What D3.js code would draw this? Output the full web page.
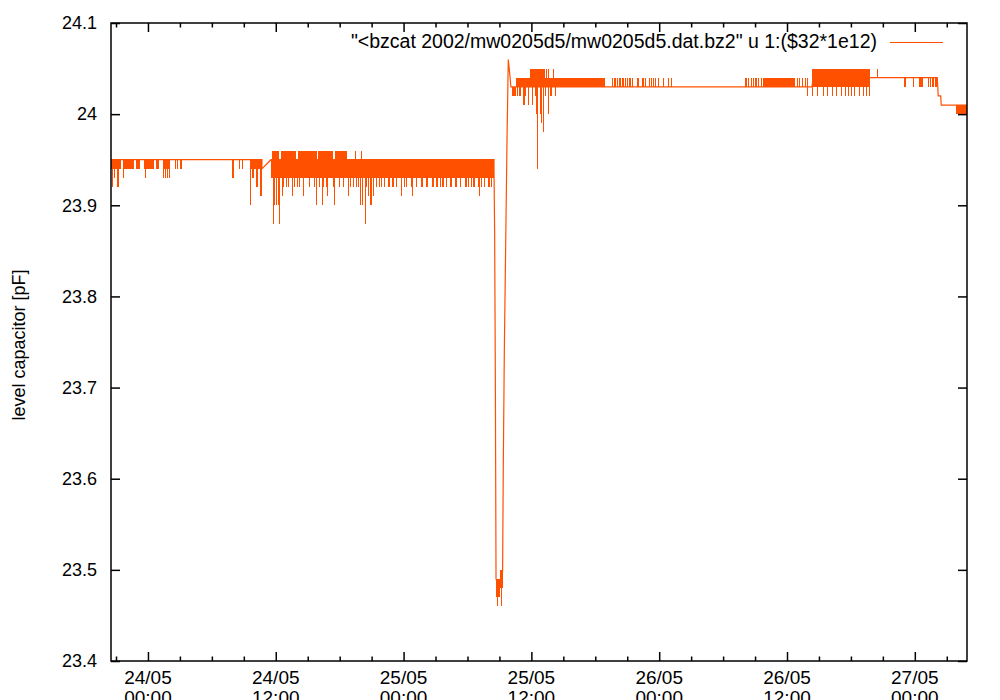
<!DOCTYPE html>
<html><head><meta charset="utf-8">
<script src="https://cdn.jsdelivr.net/npm/d3@7"></script>
<style>
body{margin:0;background:#fff}
svg{display:block}
text{font-family:"Liberation Sans",Arial,Helvetica,sans-serif;fill:#000}
</style>
</head><body>
<svg id="chart" width="1000" height="700"></svg>
<script>
// ---------- data (time in hours after 24/05/2002 00:00 UTC) ----------
const startDate = Date.UTC(2002, 4, 24, 0, 0);
const timeRangeHours = [-3.47, 76.9];
const valueRange = [23.4, 24.1];
const yTickValues = [23.4, 23.5, 23.6, 23.7, 23.8, 23.9, 24.0, 24.1];
const yTickLabels = ["23.4", "23.5", "23.6", "23.7", "23.8", "23.9", "24", "24.1"];
const xMajorTickHours = [0, 12, 24, 36, 48, 60, 72];
const xMinorTickHours = [-3, 3, 6, 9, 15, 18, 21, 27, 30, 33, 39, 42, 45, 51, 54, 57, 63, 66, 69, 75];
const yAxisTitle = "level capacitor [pF]";
const seriesLabel = "\"<bzcat 2002/mw0205d5/mw0205d5.dat.bz2\" u 1:($32*1e12)";

// slow trace of the signal [hour, pF]
const levelTrace = [
  [-3.47, 23.95], [10.70, 23.95], [10.70, 23.94], [11.55, 23.95], [32.49, 23.95],
  [32.49, 23.94], [32.55, 23.87], [32.62, 23.70], [32.68, 23.49], [33.01, 23.48],
  [33.24, 23.49], [33.30, 23.50], [33.36, 23.61], [33.46, 23.74], [33.59, 23.86],
  [33.71, 23.97], [33.83, 24.06], [33.92, 24.05], [34.08, 24.03], [62.35, 24.03],
  [62.45, 24.04], [74.11, 24.04], [74.20, 24.02], [74.43, 24.02], [74.48, 24.01],
  [76.90, 24.01]
];

// dense fluctuation bands [hourStart, hourEnd, high, low]
const noiseBands = [
  [-3.47, -2.54, 23.95, 23.94], [-2.25, -1.31, 23.95, 23.94], [-1.13, -0.78, 23.95, 23.94],
  [-0.38, 0.56, 23.95, 23.94], [0.78, 1.03, 23.95, 23.94], [1.41, 2.04, 23.95, 23.94],
  [7.89, 8.12, 23.95, 23.93], [9.55, 10.70, 23.95, 23.94],
  [11.55, 32.49, 23.95, 23.93],
  [11.64, 12.30, 23.96, 23.95], [12.45, 13.90, 23.96, 23.95], [14.05, 15.85, 23.96, 23.95],
  [16.00, 17.40, 23.96, 23.95], [17.55, 18.69, 23.96, 23.95],
  [32.68, 33.05, 23.49, 23.47], [33.05, 33.30, 23.50, 23.48],
  [34.18, 34.55, 24.03, 24.02], [34.55, 42.91, 24.04, 24.03], [35.87, 37.28, 24.05, 24.04],
  [57.75, 60.75, 24.04, 24.03], [62.35, 67.79, 24.05, 24.03], [72.39, 72.77, 24.04, 24.03],
  [75.90, 76.90, 24.01, 24.00]
];

// isolated excursions [hour, from, to]
const excursions = [
  [-3.31, 23.95, 23.92], [-3.13, 23.95, 23.93], [-2.86, 23.95, 23.92], [-2.77, 23.95, 23.92],
  [-2.25, 23.95, 23.93], [-0.22, 23.95, 23.93], [1.50, 23.95, 23.93], [1.64, 23.95, 23.93],
  [1.88, 23.95, 23.93], [2.02, 23.95, 23.93], [2.60, 23.95, 23.94], [2.75, 23.95, 23.94],
  [3.07, 23.95, 23.94], [3.19, 23.95, 23.94], [8.61, 23.95, 23.94], [8.92, 23.95, 23.94],
  [9.64, 23.95, 23.90], [9.77, 23.95, 23.93], [9.95, 23.95, 23.93], [10.17, 23.95, 23.92],
  [10.33, 23.95, 23.92], [10.58, 23.95, 23.91], [10.64, 23.95, 23.91],
  [11.77, 23.93, 23.88], [11.92, 23.93, 23.90], [12.11, 23.93, 23.90], [12.21, 23.93, 23.90],
  [12.39, 23.93, 23.88], [12.65, 23.93, 23.91], [12.77, 23.93, 23.92], [13.02, 23.93, 23.92],
  [13.24, 23.93, 23.92], [13.59, 23.93, 23.91], [13.80, 23.93, 23.92],
  [14.08, 23.93, 23.92], [14.27, 23.93, 23.92], [14.58, 23.93, 23.92], [14.65, 23.93, 23.91],
  [15.21, 23.93, 23.92], [15.68, 23.93, 23.92], [15.87, 23.93, 23.90], [16.15, 23.93, 23.92],
  [16.40, 23.93, 23.90], [16.46, 23.93, 23.92], [16.78, 23.93, 23.92], [16.90, 23.93, 23.91],
  [17.40, 23.93, 23.92], [17.56, 23.93, 23.90], [17.96, 23.93, 23.92], [18.03, 23.93, 23.92],
  [18.34, 23.93, 23.92], [18.87, 23.93, 23.91], [18.97, 23.93, 23.92], [19.28, 23.93, 23.92],
  [19.62, 23.93, 23.92], [19.75, 23.93, 23.92], [20.00, 23.93, 23.90],
  [20.19, 23.93, 23.90], [20.38, 23.93, 23.88], [20.47, 23.93, 23.90], [20.53, 23.93, 23.92],
  [20.66, 23.93, 23.91], [20.85, 23.93, 23.90], [21.03, 23.93, 23.90], [21.22, 23.93, 23.91],
  [21.47, 23.93, 23.92], [21.78, 23.93, 23.92], [21.97, 23.93, 23.92], [22.25, 23.93, 23.92],
  [22.57, 23.93, 23.92], [22.72, 23.93, 23.92], [23.00, 23.93, 23.92], [23.03, 23.93, 23.92],
  [23.35, 23.93, 23.92], [23.82, 23.93, 23.92], [23.85, 23.93, 23.91], [24.13, 23.93, 23.92],
  [24.29, 23.93, 23.92], [24.76, 23.93, 23.92], [24.84, 23.93, 23.91], [25.23, 23.93, 23.92],
  [25.70, 23.93, 23.92], [25.73, 23.93, 23.92], [26.17, 23.93, 23.92], [26.29, 23.93, 23.92],
  [26.76, 23.93, 23.92], [26.79, 23.93, 23.92], [27.10, 23.93, 23.92], [27.14, 23.93, 23.92],
  [27.42, 23.93, 23.92], [27.70, 23.93, 23.92], [27.73, 23.93, 23.92], [28.05, 23.93, 23.92],
  [28.36, 23.93, 23.92], [28.52, 23.93, 23.92], [28.83, 23.93, 23.92], [28.99, 23.93, 23.92],
  [29.30, 23.93, 23.92], [29.77, 23.93, 23.92], [29.95, 23.93, 23.92], [30.08, 23.93, 23.92],
  [30.39, 23.93, 23.92], [30.52, 23.93, 23.92], [30.70, 23.93, 23.92], [31.02, 23.93, 23.92],
  [31.17, 23.93, 23.91], [31.33, 23.93, 23.92], [31.64, 23.93, 23.92], [31.95, 23.93, 23.92],
  [32.11, 23.93, 23.92], [32.27, 23.93, 23.92],
  [19.44, 23.95, 23.96], [20.07, 23.95, 23.96],
  [32.80, 23.47, 23.46], [33.24, 23.48, 23.46],
  [34.65, 24.03, 24.02], [34.84, 24.03, 24.02], [35.02, 24.03, 24.02], [35.24, 24.03, 24.01],
  [35.37, 24.03, 24.01], [35.49, 24.03, 24.02], [35.71, 24.03, 24.01], [35.77, 24.03, 24.01],
  [36.12, 24.03, 24.01], [36.34, 24.03, 24.02], [36.50, 24.03, 24.00], [36.59, 24.03, 23.94],
  [36.81, 24.03, 24.00], [36.97, 24.03, 23.99], [37.12, 24.03, 23.98], [37.37, 24.03, 24.02],
  [37.59, 24.03, 24.00], [37.75, 24.03, 24.02], [37.93, 24.03, 24.02], [38.22, 24.03, 24.02],
  [37.46, 24.04, 24.05], [37.65, 24.04, 24.05], [38.03, 24.04, 24.05],
  [42.72, 24.03, 24.04], [43.66, 24.03, 24.04], [43.80, 24.03, 24.04], [43.94, 24.03, 24.04],
  [44.08, 24.03, 24.04], [44.23, 24.03, 24.04], [44.37, 24.03, 24.04], [44.51, 24.03, 24.04],
  [44.69, 24.03, 24.04], [44.84, 24.03, 24.04], [44.98, 24.03, 24.04], [45.21, 24.03, 24.04],
  [45.35, 24.03, 24.04], [45.54, 24.03, 24.04], [45.92, 24.03, 24.04], [46.10, 24.03, 24.04],
  [46.43, 24.03, 24.04], [46.57, 24.03, 24.04], [46.76, 24.03, 24.04], [47.09, 24.03, 24.04],
  [47.28, 24.03, 24.04], [47.51, 24.03, 24.04], [47.65, 24.03, 24.04], [47.89, 24.03, 24.04],
  [48.36, 24.03, 24.04], [48.83, 24.03, 24.04], [49.20, 24.03, 24.04],
  [56.06, 24.03, 24.04], [56.24, 24.03, 24.04], [56.43, 24.03, 24.04], [56.62, 24.03, 24.04],
  [56.81, 24.03, 24.04], [57.00, 24.03, 24.04], [57.18, 24.03, 24.04], [57.37, 24.03, 24.04],
  [57.56, 24.03, 24.04], [60.94, 24.03, 24.04], [61.22, 24.03, 24.04], [61.50, 24.03, 24.04],
  [61.78, 24.03, 24.04], [61.97, 24.04, 24.02],
  [62.44, 24.03, 24.02], [62.82, 24.03, 24.02], [63.38, 24.03, 24.02], [63.76, 24.03, 24.02],
  [64.23, 24.03, 24.02], [64.69, 24.03, 24.02], [65.07, 24.03, 24.02], [65.45, 24.03, 24.02],
  [65.73, 24.03, 24.02], [66.10, 24.03, 24.02], [66.38, 24.03, 24.02], [66.76, 24.03, 24.02],
  [67.14, 24.03, 24.02], [67.51, 24.03, 24.02], [67.70, 24.03, 24.02],
  [68.51, 24.04, 24.05],
  [70.99, 24.04, 24.03], [71.13, 24.04, 24.03], [71.83, 24.04, 24.03], [73.33, 24.04, 24.03],
  [73.47, 24.04, 24.03], [73.62, 24.04, 24.03], [73.76, 24.04, 24.03], [73.90, 24.04, 24.03],
  [74.04, 24.04, 24.03]
];

// ---------- drawing ----------
const plot = {left: 111, right: 967, top: 23, bottom: 661};
const lineColor = "#ff5000";
const toDate = h => new Date(startDate + h * 3600e3);
const px = v => Math.round(v - 0.5) + 0.5;

const svg = d3.select("#chart");
const x = d3.scaleUtc().domain(timeRangeHours.map(toDate)).range([plot.left, plot.right]);
const y = d3.scaleLinear().domain(valueRange).range([plot.bottom, plot.top]);

svg.append("defs").append("clipPath").attr("id", "clip")
  .append("rect").attr("x", plot.left).attr("y", plot.top)
  .attr("width", plot.right - plot.left).attr("height", plot.bottom - plot.top);

const g = svg.append("g").attr("clip-path", "url(#clip)");

g.selectAll("rect.band").data(noiseBands).enter().append("rect")
  .attr("class", "band")
  .attr("x", d => x(toDate(d[0])))
  .attr("width", d => Math.max(1, x(toDate(d[1])) - x(toDate(d[0]))))
  .attr("y", d => y(d[2]))
  .attr("height", d => y(d[3]) - y(d[2]))
  .attr("fill", lineColor)
  .attr("shape-rendering", "crispEdges");

g.selectAll("line.exc").data(excursions).enter().append("line")
  .attr("class", "exc")
  .attr("x1", d => px(x(toDate(d[0])))).attr("x2", d => px(x(toDate(d[0]))))
  .attr("y1", d => y(d[1])).attr("y2", d => y(d[2]))
  .attr("stroke", lineColor).attr("stroke-width", 1)
  .attr("shape-rendering", "crispEdges");

const line = d3.line().x(d => x(toDate(d[0]))).y(d => y(d[1]));
g.append("path").datum(levelTrace).attr("d", line)
  .attr("fill", "none").attr("stroke", lineColor).attr("stroke-width", 1.2);

// axes
const majorDates = xMajorTickHours.map(toDate);
const minorDates = xMinorTickHours.map(toDate);
function styleAxis(sel) {
  sel.select(".domain").remove();
  sel.selectAll(".tick line").attr("stroke", "#000").attr("stroke-width", 1.5);
  sel.selectAll("text").remove();
}
svg.append("g").attr("transform", `translate(0,${plot.bottom})`)
  .call(d3.axisBottom(x).tickValues(majorDates).tickSize(-9)).call(styleAxis);
svg.append("g").attr("transform", `translate(0,${plot.bottom})`)
  .call(d3.axisBottom(x).tickValues(minorDates).tickSize(-4.5)).call(styleAxis);
svg.append("g").attr("transform", `translate(0,${plot.top})`)
  .call(d3.axisTop(x).tickValues(majorDates).tickSize(-9)).call(styleAxis);
svg.append("g").attr("transform", `translate(0,${plot.top})`)
  .call(d3.axisTop(x).tickValues(minorDates).tickSize(-4.5)).call(styleAxis);
svg.append("g").attr("transform", `translate(${plot.right},0)`)
  .call(d3.axisRight(y).tickValues(yTickValues).tickSize(-9)).call(styleAxis);

const yAxis = svg.append("g").attr("transform", `translate(${plot.left},0)`)
  .call(d3.axisLeft(y).tickValues(yTickValues).tickSize(-9).tickPadding(14)
    .tickFormat((d, i) => yTickLabels[i]));
yAxis.select(".domain").remove();
yAxis.selectAll(".tick line").attr("stroke", "#000").attr("stroke-width", 1.5);
yAxis.selectAll("text").attr("font-size", 18).attr("fill", "#000")
  .attr("font-family", "'Liberation Sans', Arial, sans-serif");

// x labels (two lines)
const fmtDay = d3.utcFormat("%d/%m"), fmtTime = d3.utcFormat("%H:%M");
const xl = svg.append("g").selectAll("text").data(majorDates).enter().append("text")
  .attr("x", d => x(d)).attr("y", 684).attr("text-anchor", "middle").attr("font-size", 19);
xl.append("tspan").attr("x", d => x(d)).text(d => fmtDay(d));
xl.append("tspan").attr("x", d => x(d)).attr("dy", 20).text(d => fmtTime(d));

// border
svg.append("rect").attr("x", plot.left).attr("y", plot.top)
  .attr("width", plot.right - plot.left).attr("height", plot.bottom - plot.top)
  .attr("fill", "none").attr("stroke", "#000").attr("stroke-width", 1.5);

// y title
svg.append("text").attr("transform", "translate(25,345) rotate(-90)")
  .attr("text-anchor", "middle").attr("font-size", 18).text(yAxisTitle);

// legend
svg.append("text").attr("x", 877).attr("y", 48).attr("text-anchor", "end")
  .attr("font-size", 19.5).text(seriesLabel);
svg.append("line").attr("x1", 890).attr("x2", 943).attr("y1", 42.5).attr("y2", 42.5)
  .attr("stroke", lineColor).attr("stroke-width", 1);
</script>
</body></html>
